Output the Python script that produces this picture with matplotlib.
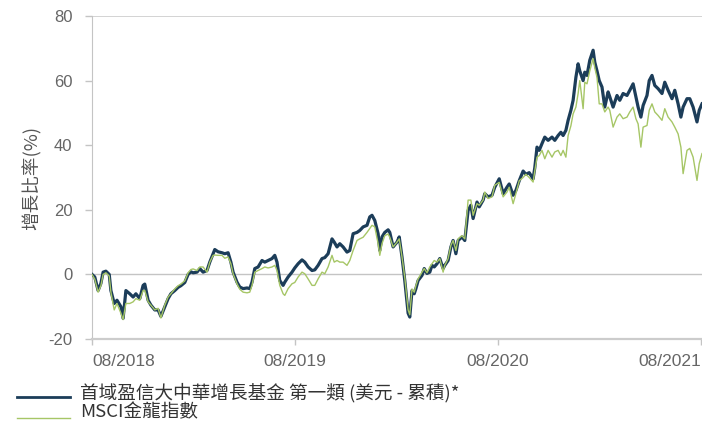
import numpy as np
import pandas as pd
import matplotlib
matplotlib.use("Agg")
import matplotlib.pyplot as plt
from matplotlib.lines import Line2D

CJK = ["Noto Sans CJK TC", "DejaVu Sans"]
NUM = ["Liberation Sans", "DejaVu Sans"]

# days since 2018-08-01
days = [0, 5, 11, 16, 20, 25, 31, 34, 40, 45, 52, 56, 61, 68, 74, 79, 86, 92, 95, 101,
        106, 113, 119, 124, 131, 137, 142, 149, 155, 160, 167, 173, 178, 182, 189, 194, 200, 207, 212, 218,
        221, 227, 234, 239, 245, 250, 254, 261, 266, 272, 279, 284, 288, 293, 299, 306, 311, 317, 324, 329,
        333, 338, 344, 347, 353, 360, 365, 371, 378, 383, 389, 396, 401, 407, 414, 419, 425, 432, 436, 441,
        446, 452, 459, 464, 470, 477, 482, 488, 495, 500, 504, 509, 515, 518, 522, 527, 533, 536, 542, 549,
        553, 558, 563, 569, 572, 576, 580, 583, 587, 594, 598, 603, 608, 612, 616, 621, 626, 632, 635, 641,
        646, 650, 655, 659, 666, 671, 677, 682, 686, 693, 697, 704, 707, 713, 720, 725, 733, 740, 747, 751,
        758, 763, 769, 776, 781, 787, 794, 797, 801, 805, 810, 815, 821, 828, 833, 839, 844, 848, 853, 857,
        862, 866, 871, 875, 878, 884, 887, 891, 896, 902, 905, 909, 913, 918, 923, 929, 932, 938, 945, 950,
        956, 963, 968, 974, 979, 983, 988, 992, 999, 1003, 1008, 1013, 1019, 1026, 1031, 1037, 1044, 1049, 1055, 1060,
        1064, 1071, 1076, 1082, 1089, 1093, 1098]

fund = [0, -0.8, -5, -2.8, 0.7, 1, 0, -5, -9, -8, -10, -13.6, -5, -6, -7, -6, -7.5, -3.4, -3, -8,
        -9.5, -11, -11, -13, -10, -7.5, -6, -5, -4, -3.5, -2.5, 0, 0.8, 0.5, 0.7, 1.8, 0.7, 1.2, 3.8, 6.4,
        7.7, 7, 6.7, 6.4, 6.7, 3.8, 0.7, -2.4, -3.9, -4.4, -4.2, -4.4, -2.4, 1.8, 2.3, 4.3, 3.8, 4.3, 4.9, 5.9,
        3.8, -1.9, -3.4, -2.4, -0.8, 0.7, 2.0, 3.3, 4.5, 3.8, 2.3, 1.2, 1.4, 2.8, 4.9, 5.2, 6.4, 11, 10, 8.5,
        9.5, 8.5, 6.9, 7.4, 12.6, 13, 13.6, 14.7, 15.2, 17.8, 18.3, 16.7, 12.6, 7.4, 11.6, 13, 13.8, 13, 8.5, 10,
        11.6, 5.4, -1.9, -12, -13.2, -5, -6, -4.4, -1.9, -0.3, 1.8, 0.3, 0.7, 2.8, 2.3, 3.3, 4.9, 1.8, 2.8, 4.3,
        8.5, 10.5, 6.4, 10.5, 11.6, 10.5, 19.8, 21.4, 17.3, 22.4, 20.9, 23, 25, 24, 24.5, 27, 29.6, 25, 27, 28,
        24.5, 26, 29, 32, 31, 31.5, 29.6, 33, 39.4, 38.4, 40.5, 42.5, 41.5, 42.5, 41.5, 43, 44, 43, 44.6, 47.7,
        50.8, 53.9, 61, 65.2, 63, 60, 62.6, 61.6, 66.3, 69.4, 65.7, 63, 60, 58, 51.8, 56.5, 55, 51.8, 55.4, 53.9,
        56, 55.4, 57, 59, 55, 51.8, 48.7, 52.3, 55.4, 60, 61.6, 58.5, 57.5, 56, 59.5, 57, 54.4, 57, 52.8, 48.7,
        51.8, 54.4, 54.4, 51.8, 47.2, 50.8, 52.8]

msci = [0, -1.5, -5.5, -3.5, 0, 0.5, -0.5, -5.5, -11, -9, -12, -14, -9, -9, -8.5, -7.5, -8, -5, -5, -8.5,
        -9.5, -11, -10.5, -13.5, -9.5, -7, -6, -4.5, -3.5, -3, -2, 0.5, 1.5, 1.7, 1.2, 2.3, 2.3, 0.7, 3.8, 5.9,
        6.0, 5.9, 5.9, 5, 5.4, 3.3, 0.2, -2.9, -4.6, -5.5, -5.7, -5.5, -3.4, 0.7, 1.2, 1.8, 2.3, 2.0, 2.3, 2.8,
        1.2, -3.4, -6, -6.5, -4.4, -2.9, -2.5, -0.8, 0.7, 0.2, -1.4, -3.4, -3.4, -1.4, 0.7, 0.2, 2.3, 5.9, 3.8, 4.3,
        3.8, 3.8, 2.8, 4.3, 7.4, 10.5, 11, 11.5, 13, 14.2, 15.2, 14.7, 9.5, 5.9, 9.5, 12, 12.5, 11.5, 8.5, 10,
        11, 5.4, -1, -11, -12.5, -4.5, -5.5, -3.5, -1.4, 0.7, 1.8, 0.5, 2.3, 3.3, 4.3, 3.8, 4.9, 0.7, 2.8, 4.9,
        9, 10.5, 7.4, 11, 12, 11, 23, 23, 18.3, 21.9, 21.4, 23, 25.5, 23.5, 24, 27.6, 28.5, 24, 25.5, 27,
        21.9, 25, 29, 30, 31, 30, 28.6, 32, 36.3, 36.8, 38.4, 35.8, 38.4, 36.3, 37.9, 38.4, 36.8, 38.4, 36.3, 43,
        46, 49.7, 51.8, 56, 60, 51.3, 59.5, 59, 63, 66.8, 64, 61, 52.8, 52.8, 50.3, 51.8, 50.8, 45.6, 48.7, 49.7,
        48.2, 48.7, 50.3, 51.8, 48.2, 46.6, 39.4, 45.6, 46.1, 50.8, 52.8, 50.3, 49.2, 47.7, 51.3, 48.7, 47.2, 45.6, 43.5, 39.4,
        31.2, 38.4, 39, 36.3, 29.1, 34.3, 37.4]

labels = ["首域盈信大中華增長基金 第一類 (美元 - 累積)*", "MSCI金龍指數"]
colors = ["#1c3d59", "#a6c666"]
tick_dates = ["2018-08-01", "2019-08-01", "2020-08-01", "2021-08-01"]
tick_labels = ["08/2018", "08/2019", "08/2020", "08/2021"]
yticks = [-20, 0, 20, 40, 60, 80]

start = pd.Timestamp("2018-08-01")
dates = start + pd.to_timedelta(days, unit="D")

W, H = 702, 421
fig = plt.figure(figsize=(W / 100, H / 100), dpi=100)
ax = fig.add_axes([92 / W, 82 / H, 610 / W, 323 / H])

ax.plot(dates, fund, color=colors[0], linewidth=2.3, zorder=3)
ax.plot(dates, msci, color=colors[1], linewidth=1.0, zorder=4)

ax.set_xlim(start, start + pd.Timedelta(days=1098))
ax.set_ylim(-20, 80)
ax.axhline(0, color="#c4c4c4", linewidth=1.0, zorder=1)
ax.axhline(80, color="#cccccc", linewidth=1.2, zorder=1)

for s in ("top", "right"):
    ax.spines[s].set_visible(False)
ax.spines["left"].set_color("#c4c4c4")
ax.spines["bottom"].set_color("#cccccc")
ax.spines["bottom"].set_linewidth(1.6)

ax.set_yticks(yticks)
ax.set_yticklabels([str(v) for v in yticks], family=NUM, fontsize=12, color="#666666")
ax.tick_params(axis="y", length=5, width=1, color="#c4c4c4", pad=9)
ax.set_xticks(pd.to_datetime(tick_dates))
xl = ax.set_xticklabels(tick_labels, family=NUM, fontsize=12.5, color="#666666")
xl[0].set_ha("left")
xl[-1].set_ha("right")
ax.tick_params(axis="x", length=4, width=1, color="#c4c4c4", pad=7)

ax.set_ylabel("增長比率(%)", family=CJK, fontsize=13.4, color="#555555", labelpad=5)

# legend drawn by hand: line sits a bit below the text centre, like the original
rows = [(393, 397, 2.0), (412, 418, 1.0)]
for (ty, ly, lw), lab, c in zip(rows, labels, colors):
    fig.add_artist(Line2D([17 / W, 70 / W], [1 - ly / H, 1 - ly / H], color=c, linewidth=lw))
    fig.text(80 / W, 1 - ty / H, lab, family=CJK, fontsize=13.4, color="#333333", va="center", ha="left")

fig.savefig("out.png", dpi=100)
